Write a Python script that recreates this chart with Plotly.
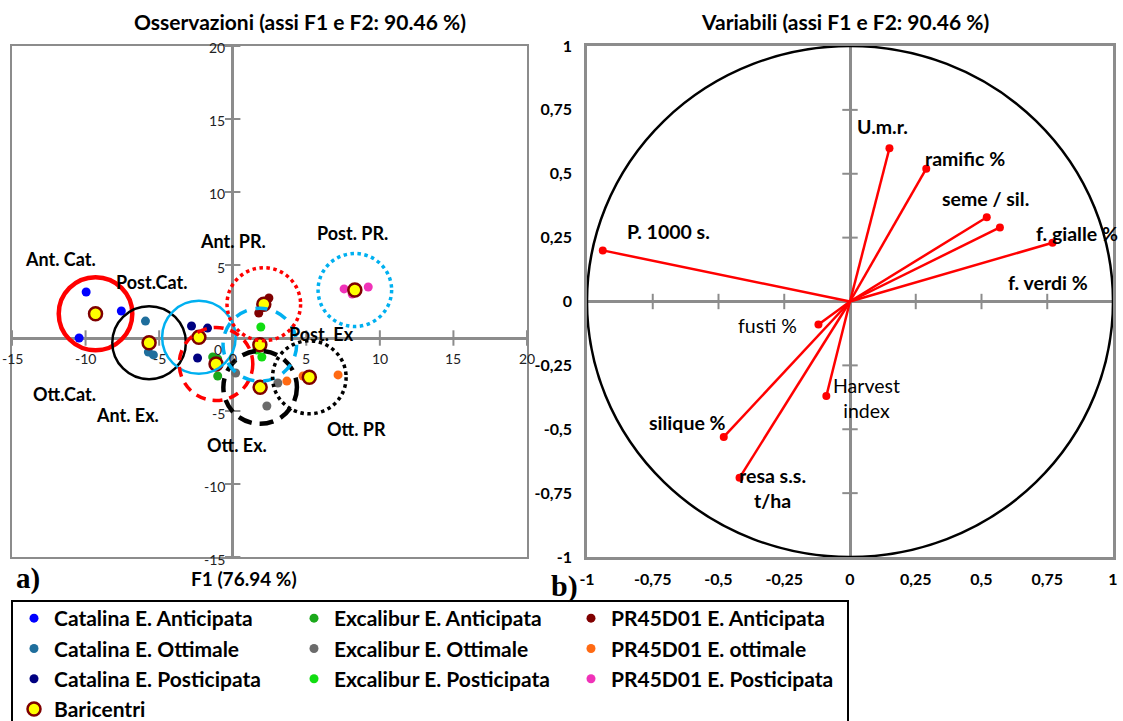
import numpy as np
import plotly.graph_objects as go

W, H = 1123, 721

# ---------------- Observations: F1 / F2 scores (3 replicates per treatment) -------------
cat_ant_f1 = [-9.96, -7.57, -10.44]
cat_ant_f2 = [3.15, 1.85, 0.00]
cat_ott_f1 = [-5.93, -5.73, -5.39]
cat_ott_f2 = [1.16, -0.96, -1.16]
cat_post_f1 = [-2.80, -1.71, -2.39]
cat_post_f2 = [0.82, 0.68, -1.37]
exc_ant_f1 = [-1.36, -1.02, -1.02]
exc_ant_f2 = [-1.30, -1.44, -2.60]
exc_ott_f1 = [0.20, 3.07, 2.32]
exc_ott_f2 = [-2.40, -3.08, -4.66]
exc_post_f1 = [1.91, 1.98, 1.64]
exc_post_f2 = [0.75, -1.30, -0.82]
pr_ant_f1 = [2.46, 1.77, 2.11]
pr_ant_f2 = [2.74, 1.71, 2.50]
pr_ott_f1 = [3.68, 4.78, 7.16]
pr_ott_f2 = [-2.95, -2.60, -2.53]
pr_post_f1 = [7.57, 9.21, 8.12]
pr_post_f2 = [3.36, 3.49, 3.01]

group_names = [
    "Catalina E. Anticipata", "Catalina E. Ottimale", "Catalina E. Posticipata",
    "Excalibur E. Anticipata", "Excalibur E. Ottimale", "Excalibur E. Posticipata",
    "PR45D01 E. Anticipata", "PR45D01 E. ottimale", "PR45D01 E. Posticipata",
]
group_tags = ["Ant. Cat.", "Ott.Cat.", "Post.Cat.", "Ant. Ex.", "Ott. Ex.",
              "Post. Ex", "Ant. PR.", "Ott. PR", "Post. PR."]

# ---------------- Variables: loadings on F1 / F2 ----------------
variables = ["U.m.r.", "ramific %", "seme / sil.", "f. gialle %", "f. verdi %",
             "P. 1000 s.", "fusti %", "Harvest index", "silique %", "resa s.s. t/ha"]
load_f1 = [0.15, 0.29, 0.52, 0.77, 0.57, -0.94, -0.12, -0.09, -0.48, -0.42]
load_f2 = [0.60, 0.52, 0.33, 0.23, 0.29, 0.20, -0.09, -0.37, -0.53, -0.69]

obs_ticks = [-15, -10, -5, 0, 5, 10, 15, 20]
var_ticks = [-1, -0.75, -0.5, -0.25, 0, 0.25, 0.5, 0.75, 1]
var_tick_text = ["-1", "-0,75", "-0,5", "-0,25", "0", "0,25", "0,5", "0,75", "1"]

# ---------------- styling ----------------
FONT = "Lato"
AXIS_GREY = "#8C8C8C"
point_colors = ["#0000FF", "#1F6E9C", "#000080",
                "#1BA81B", "#6B6B6B", "#11DD11",
                "#800000", "#FF6A13", "#F032B8"]
ring_colors = ["#FF0000", "#000000", "#00B0F0"] * 3
ring_dash = ["solid"] * 3 + ["10px,7px", "14px,8px", "12px,9px"] + ["dot"] * 3
ring_width = [4.5, 2.5, 2.5, 3.5, 4.5, 3.5, 3.5, 3.5, 3.5]
ring_radius = 2.5
legend_slot = ["legend", "legend", "legend", "legend2", "legend2", "legend2",
               "legend3", "legend3", "legend3"]

tag_pos = {
    "Ant. Cat.": (-11.7, 5.4), "Ott.Cat.": (-11.46, -3.85), "Post.Cat.": (-5.55, 3.84),
    "Ant. Ex.": (-7.16, -5.3), "Ott. Ex.": (0.27, -7.35), "Post. Ex": (6.0, 0.3),
    "Ant. PR.": (0.0, 6.64), "Ott. PR": (8.4, -6.2), "Post. PR.": (8.12, 7.19),
}
var_label_pos = {
    "U.m.r.": (0.125, 0.683), "ramific %": (0.437, 0.558), "seme / sil.": (0.517, 0.405),
    "f. gialle %": (0.863, 0.268), "f. verdi %": (0.753, 0.076), "P. 1000 s.": (-0.692, 0.272),
    "fusti %": (-0.312, -0.092), "Harvest index": (0.061, -0.378),
    "silique %": (-0.616, -0.472), "resa s.s. t/ha": (-0.293, -0.73),
}
var_label_text = {"Harvest index": "Harvest<br>index", "resa s.s. t/ha": "resa s.s.<br>t/ha"}
var_label_bold = {"fusti %": False, "Harvest index": False}

obs_f1 = [cat_ant_f1, cat_ott_f1, cat_post_f1, exc_ant_f1, exc_ott_f1,
          exc_post_f1, pr_ant_f1, pr_ott_f1, pr_post_f1]
obs_f2 = [cat_ant_f2, cat_ott_f2, cat_post_f2, exc_ant_f2, exc_ott_f2,
          exc_post_f2, pr_ant_f2, pr_ott_f2, pr_post_f2]
cent_f1 = [float(np.mean(v)) for v in obs_f1]
cent_f2 = [float(np.mean(v)) for v in obs_f2]


def px_x(p):
    return p / W


def px_y(p):
    return 1 - p / H


def paper_text(x, y, text, size, family=FONT, weight="bold"):
    fig.add_annotation(x=px_x(x), y=px_y(y), xref="paper", yref="paper", showarrow=False,
                       xanchor="center", yanchor="middle", text=text,
                       font=dict(family=family, size=size, color="#000", weight=weight))


fig = go.Figure()

# ---- left panel: tick crosses on the centred axes ----
fig.add_trace(go.Scatter(
    x=[t for t in obs_ticks if t != 0], y=[0] * (len(obs_ticks) - 1), mode="markers",
    marker=dict(symbol="line-ns", size=11, line=dict(width=2, color=AXIS_GREY)),
    xaxis="x", yaxis="y", showlegend=False, hoverinfo="skip"))
fig.add_trace(go.Scatter(
    x=[0] * (len(obs_ticks) - 1), y=[t for t in obs_ticks if t != 0], mode="markers",
    marker=dict(symbol="line-ew", size=11, line=dict(width=2, color=AXIS_GREY)),
    xaxis="x", yaxis="y", showlegend=False, hoverinfo="skip"))

# ---- left panel: observations ----
for i, name in enumerate(group_names):
    fig.add_trace(go.Scatter(
        x=obs_f1[i], y=obs_f2[i], mode="markers", name=name,
        marker=dict(size=9, color=point_colors[i]),
        legend=legend_slot[i], xaxis="x", yaxis="y",
    ))

fig.add_trace(go.Scatter(
    x=cent_f1, y=cent_f2, mode="markers", name="Baricentri",
    marker=dict(size=13, color="#FFFF00", line=dict(width=2.5, color="#7F0000")),
    legend="legend", xaxis="x", yaxis="y",
))

# rings around each centroid
for i in range(len(group_names)):
    fig.add_shape(type="circle", xref="x", yref="y",
                  x0=cent_f1[i] - ring_radius, x1=cent_f1[i] + ring_radius,
                  y0=cent_f2[i] - ring_radius, y1=cent_f2[i] + ring_radius,
                  line=dict(color=ring_colors[i], width=ring_width[i], dash=ring_dash[i]),
                  layer="above")

for tag in group_tags:
    tx, ty = tag_pos[tag]
    fig.add_annotation(x=tx, y=ty, xref="x", yref="y", text=tag, showarrow=False,
                       xanchor="center", yanchor="middle",
                       font=dict(family=FONT, size=18, color="#000", weight="bold"))

# tick labels of the centred axes
for t in obs_ticks:
    fig.add_annotation(x=t, y=0, xref="x", yref="y", text=str(t), showarrow=False,
                       xanchor="center", yanchor="top", yshift=-10,
                       font=dict(family=FONT, size=14, color="#222"))
    if t != 0:
        fig.add_annotation(x=0, y=t, xref="x", yref="y", text=str(t), showarrow=False,
                           xanchor="right", yanchor="middle", xshift=-6, yshift=-2,
                           font=dict(family=FONT, size=14, color="#222"))
fig.add_annotation(x=0, y=0, xref="x", yref="y", text="0", showarrow=False,
                   xanchor="right", xshift=-9, yanchor="top", yshift=-1,
                   font=dict(family=FONT, size=14, color="#222"))

# ---- right panel: correlation circle ----
fig.add_trace(go.Scatter(
    x=[v for v in var_ticks if v != 0], y=[0] * (len(var_ticks) - 1), mode="markers",
    marker=dict(symbol="line-ns", size=11, line=dict(width=2, color=AXIS_GREY)),
    xaxis="x2", yaxis="y2", showlegend=False, hoverinfo="skip"))
fig.add_trace(go.Scatter(
    x=[0] * (len(var_ticks) - 1), y=[v for v in var_ticks if v != 0], mode="markers",
    marker=dict(symbol="line-ew", size=11, line=dict(width=2, color=AXIS_GREY)),
    xaxis="x2", yaxis="y2", showlegend=False, hoverinfo="skip"))

fig.add_shape(type="circle", xref="x2", yref="y2", x0=-1, x1=1, y0=-1, y1=1,
              line=dict(color="#000", width=2.5), layer="above")

vx, vy = [], []
for a, b in zip(load_f1, load_f2):
    vx += [0, a, None]
    vy += [0, b, None]
fig.add_trace(go.Scatter(x=vx, y=vy, mode="lines", line=dict(color="#FF0000", width=2.5),
                         xaxis="x2", yaxis="y2", showlegend=False, hoverinfo="skip"))
fig.add_trace(go.Scatter(x=load_f1, y=load_f2, mode="markers", text=variables,
                         marker=dict(size=8, color="#FF0000"),
                         xaxis="x2", yaxis="y2", showlegend=False))

for v in variables:
    lx, ly = var_label_pos[v]
    fig.add_annotation(x=lx, y=ly, xref="x2", yref="y2",
                       text=var_label_text.get(v, v), showarrow=False,
                       xanchor="center", yanchor="middle",
                       font=dict(family=FONT, size=19.5, color="#000",
                                 weight="bold" if var_label_bold.get(v, True) else "normal"))

# ---- titles and panel letters ----
paper_text(300, 22, "Osservazioni (assi F1 e F2: 90.46 %)", 21)
paper_text(845, 22, "Variabili (assi F1 e F2: 90.46 %)", 21)
paper_text(244, 578, "F1 (76.94 %)", 19)
paper_text(28, 578, "a)", 29, family="Liberation Serif")
paper_text(564, 586, "b)", 30, family="Liberation Serif")

# legend frame
fig.add_shape(type="rect", xref="paper", yref="paper",
              x0=px_x(12), x1=px_x(848), y0=px_y(740), y1=px_y(601),
              line=dict(color="#000", width=2))

leg_common = dict(xanchor="left", yanchor="top", bgcolor="rgba(0,0,0,0)", borderwidth=0,
                  font=dict(family=FONT, size=21, color="#000", weight="bold"),
                  itemclick=False, itemdoubleclick=False, tracegroupgap=0)
tick_font = dict(family=FONT, size=16, color="#000", weight="bold")
fig.update_layout(
    width=W, height=H,
    margin=dict(l=0, r=0, t=0, b=0, autoexpand=False),
    paper_bgcolor="white", plot_bgcolor="white",
    xaxis=dict(domain=[px_x(12), px_x(527)], range=[-15, 20], showgrid=False,
               showticklabels=False, ticks="", showline=True, mirror=True,
               linecolor=AXIS_GREY, linewidth=2, zeroline=True,
               zerolinecolor=AXIS_GREY, zerolinewidth=2.5),
    yaxis=dict(domain=[px_y(557), px_y(46)], range=[-15, 20], showgrid=False,
               showticklabels=False, ticks="", showline=True, mirror=True,
               linecolor=AXIS_GREY, linewidth=2, zeroline=True,
               zerolinecolor=AXIS_GREY, zerolinewidth=2.5),
    xaxis2=dict(domain=[px_x(587), px_x(1113)], range=[-1, 1], showgrid=False,
                tickvals=var_ticks, ticktext=var_tick_text, ticks="",
                ticklabelstandoff=6, tickfont=tick_font,
                showline=True, mirror=True, linecolor=AXIS_GREY, linewidth=2.5,
                zeroline=True, zerolinecolor=AXIS_GREY, zerolinewidth=2.5, anchor="y2"),
    yaxis2=dict(domain=[px_y(557), px_y(46)], range=[-1, 1], showgrid=False,
                tickvals=var_ticks, ticktext=var_tick_text, ticks="",
                ticklabelstandoff=9, tickfont=tick_font,
                showline=True, mirror=True, linecolor=AXIS_GREY, linewidth=2.5,
                zeroline=True, zerolinecolor=AXIS_GREY, zerolinewidth=2.5, anchor="x2"),
    legend=dict(x=px_x(14), y=px_y(598), **leg_common),
    legend2=dict(x=px_x(294), y=px_y(598), **leg_common),
    legend3=dict(x=px_x(571), y=px_y(598), **leg_common),
)

fig.write_html("out.html")
